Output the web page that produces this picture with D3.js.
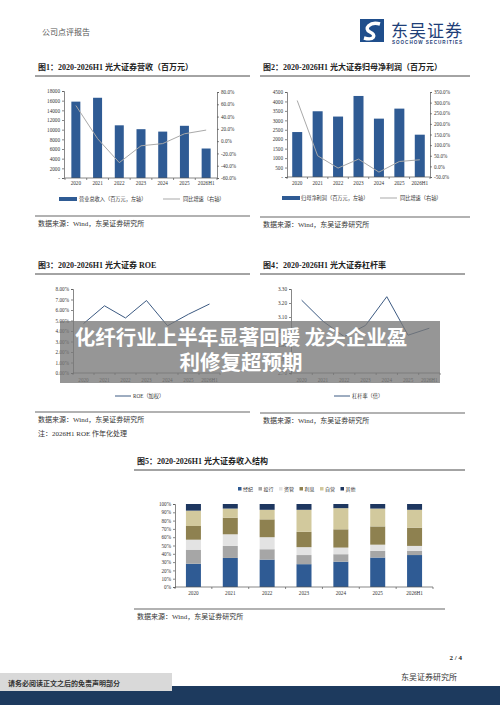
<!DOCTYPE html>
<html><head><meta charset="utf-8">
<script src="https://cdn.jsdelivr.net/npm/d3@7"></script>
<style>
html,body{margin:0;padding:0;background:#fff;}
svg{display:block;font-family:"Liberation Serif","Noto Sans CJK SC",serif;}
</style></head>
<body><svg id="c" width="500" height="706"></svg>
<script>
const years = ["2020","2021","2022","2023","2024","2025","2026H1"];
const revenue = [15800,16600,10900,10100,9600,10800,6100];
const revenueGrowth = [58,4,-35,-7.6,-4,12,18];
const revenueTicks = [0,2000,4000,6000,8000,10000,12000,14000,16000,18000];
const revenueGrowthTicks = [-60,-40,-20,0,20,40,60,80];
const netProfit = [2380,3480,3200,4290,3090,3620,2240];
const profitGrowth = [310,50,-8,34,-27,23,31];
const profitTicks = [0,500,1000,1500,2000,2500,3000,3500,4000,4500];
const profitGrowthTicks = [-50,0,50,100,150,200,250,300,350];
const roe = [4.7,6.4,5.24,6.9,4.5,5.6,6.57];
const roeTicks = [0,1,2,3,4,5,6,7,8];
const leverage = [3.22,3.07,2.96,3.04,3.245,2.97,3.02];
const leverageTicks = [2.7,2.8,2.9,3.0,3.1,3.2,3.3];
const segments = ["经纪","投行","资管","利息","自营","其他"];
const brokerage = [28,35,33,27.5,30.5,35.5,38.5];
const investBanking = [17,14.5,12.5,11,9,8,5];
const assetMgmt = [12,14,14.5,9.5,8,7.5,6];
const interest = [16.5,20,21.5,18.5,22,22,22];
const proprietary = [18.5,11,11.5,26.5,25.5,21.5,21.5];
const others = [8,5.5,7,7,5,5.5,7];
const shareTicks = [0,10,20,30,40,50,60,70,80,90,100];

const svg = d3.select("#c");
const BLUE = "#2f5b94", LGRAY = "#a9a9a9", LINEBLUE = "#3c5a82", AX = "#555";
const segColors = ["#2f5b94","#a6a6a6","#e3e3e3","#8e8150","#d2c99d","#1e3760"];

// Header
svg.append("text").attr("x",42).attr("y",35).attr("font-size",8).attr("fill","#555").text("公司点评报告");
const logo = svg.append("g");
logo.append("rect").attr("x",360).attr("y",19).attr("width",24).attr("height",23).attr("fill","#1f4e8c");
logo.append("path").attr("d","M380 24 C370 21 363 29 370 32 C377 35 374 41 364 38").attr("fill","none").attr("stroke","#fff").attr("stroke-width",3.4);
logo.append("text").attr("x",391).attr("y",37).attr("font-size",17).attr("fill","#1f3f78").attr("font-family","Noto Sans CJK SC").attr("textLength",71).text("东吴证券");
logo.append("text").attr("x",392).attr("y",44).attr("font-size",4.6).attr("font-weight","bold").attr("fill","#1f3f78").attr("font-family","Liberation Sans").attr("textLength",70).text("SOOCHOW SECURITIES");

function title(x,y,x2,t){
  svg.append("text").attr("x",x).attr("y",y).attr("font-size",8).attr("font-weight","bold").attr("fill","#222").text(t);
  svg.append("line").attr("x1",x-3).attr("x2",x2).attr("y1",y+6).attr("y2",y+6).attr("stroke","#333").attr("stroke-width",0.9);
}
function source(x,y,x2,t){
  svg.append("line").attr("x1",x-3).attr("x2",x2).attr("y1",y).attr("y2",y).attr("stroke","#999").attr("stroke-width",1.4);
  svg.append("text").attr("x",x).attr("y",y+10).attr("font-size",7).attr("fill","#333").text(t);
}
function styleAxis(g){
  g.selectAll("path").attr("stroke",AX).attr("stroke-width",0.7);
  g.selectAll("line").attr("stroke",AX).attr("stroke-width",0.7);
  g.selectAll("text").attr("font-size",5.2).attr("fill","#333").attr("font-family","Liberation Serif");
}
function xAxisBand(x, y0, yLabel){
  const g = svg.append("g");
  g.append("line").attr("x1",x.range()[0]).attr("x2",x.range()[1]).attr("y1",y0).attr("y2",y0).attr("stroke",AX).attr("stroke-width",0.7);
  const bounds = d3.range(years.length+1).map(i=>x.range()[0]+i*x.step());
  g.selectAll(".tk").data(bounds).join("line").attr("x1",d=>d).attr("x2",d=>d).attr("y1",y0).attr("y2",y0+2).attr("stroke",AX).attr("stroke-width",0.7);
  g.selectAll("text").data(years).join("text").attr("x",d=>x(d)+x.bandwidth()/2).attr("y",yLabel)
    .attr("text-anchor","middle").attr("font-size",5.2).attr("fill","#333").text(d=>d);
}

// Chart 1
title(38,70,250,"图1：2020-2026H1 光大证券营收（百万元）");
{
  const xb = d3.scaleBand().domain(years).range([65,217]);
  const y = d3.scaleLinear().domain([0,18000]).range([178,91]);
  const y2 = d3.scaleLinear().domain([-60,80]).range([178,92]);
  const gl = svg.append("g").attr("transform","translate(64,0)").call(d3.axisLeft(y).tickValues(revenueTicks).tickSize(2).tickPadding(2).tickFormat(d=>d===0?"-":d));
  styleAxis(gl);
  const gr = svg.append("g").attr("transform","translate(217,0)").call(d3.axisRight(y2).tickValues(revenueGrowthTicks).tickSize(2).tickPadding(2).tickFormat(d=>d.toFixed(1)+"%"));
  styleAxis(gr);
  svg.append("g").selectAll("rect").data(revenue).join("rect").attr("x",(d,i)=>xb(years[i])+xb.bandwidth()/2-4.5).attr("width",9)
    .attr("y",d=>y(d)).attr("height",d=>y(0)-y(d)).attr("fill",BLUE);
  xAxisBand(xb,178,185);
  svg.append("path").datum(revenueGrowth).attr("fill","none").attr("stroke",LGRAY).attr("stroke-width",1)
    .attr("d",d3.line().x((d,i)=>xb(years[i])+xb.bandwidth()/2).y(d=>y2(d)));
  svg.append("rect").attr("x",59).attr("y",197).attr("width",18).attr("height",4).attr("fill",BLUE);
  svg.append("text").attr("x",79).attr("y",201).attr("font-size",5.2).attr("fill","#333").text("营业总收入（百万元，左轴）");
  svg.append("line").attr("x1",163).attr("x2",180).attr("y1",199).attr("y2",199).attr("stroke",LGRAY).attr("stroke-width",1);
  svg.append("text").attr("x",183).attr("y",201).attr("font-size",5.2).attr("fill","#333").text("同比增速（右轴）");
}
source(38,216,250,"数据来源：Wind，东吴证券研究所");

// Chart 2
title(263,70,470,"图2：2020-2026H1 光大证券归母净利润（百万元）");
{
  const xb = d3.scaleBand().domain(years).range([287,430]);
  const y = d3.scaleLinear().domain([0,4500]).range([177,92]);
  const y2 = d3.scaleLinear().domain([-50,350]).range([177,92]);
  const gl = svg.append("g").attr("transform","translate(287,0)").call(d3.axisLeft(y).tickValues(profitTicks).tickSize(2).tickPadding(2).tickFormat(d=>d===0?"-":d));
  styleAxis(gl);
  const gr = svg.append("g").attr("transform","translate(430,0)").call(d3.axisRight(y2).tickValues(profitGrowthTicks).tickSize(2).tickPadding(2).tickFormat(d=>d.toFixed(1)+"%"));
  styleAxis(gr);
  svg.append("g").selectAll("rect").data(netProfit).join("rect").attr("x",(d,i)=>xb(years[i])+xb.bandwidth()/2-5).attr("width",10)
    .attr("y",d=>y(d)).attr("height",d=>y(0)-y(d)).attr("fill",BLUE);
  xAxisBand(xb,177,185);
  svg.append("path").datum(profitGrowth).attr("fill","none").attr("stroke",LGRAY).attr("stroke-width",1)
    .attr("d",d3.line().x((d,i)=>xb(years[i])+xb.bandwidth()/2).y(d=>y2(d)));
  svg.append("rect").attr("x",282).attr("y",196).attr("width",18).attr("height",4).attr("fill",BLUE);
  svg.append("text").attr("x",301).attr("y",200).attr("font-size",5.2).attr("fill","#333").text("归母净利润（百万元，左轴）");
  svg.append("line").attr("x1",380).attr("x2",397).attr("y1",198).attr("y2",198).attr("stroke",LGRAY).attr("stroke-width",1);
  svg.append("text").attr("x",400).attr("y",200).attr("font-size",5.2).attr("fill","#333").text("同比增速（右轴）");
}
source(263,217,470,"数据来源：Wind，东吴证券研究所");

// Chart 3
title(38,268,250,"图3：2020-2026H1 光大证券 ROE");
{
  const xb = d3.scaleBand().domain(years).range([73,220]);
  const y = d3.scaleLinear().domain([0,8]).range([373,289]);
  const gl = svg.append("g").attr("transform","translate(73,0)").call(d3.axisLeft(y).tickValues(roeTicks).tickSize(2).tickPadding(2).tickFormat(d=>d.toFixed(2)+"%"));
  styleAxis(gl);
  xAxisBand(xb,373,382);
  svg.append("path").datum(roe).attr("fill","none").attr("stroke",LINEBLUE).attr("stroke-width",1)
    .attr("d",d3.line().x((d,i)=>xb(years[i])+xb.bandwidth()/2).y(d=>y(d)));
  svg.append("line").attr("x1",115).attr("x2",131).attr("y1",396).attr("y2",396).attr("stroke",LINEBLUE).attr("stroke-width",1);
  svg.append("text").attr("x",133).attr("y",398).attr("font-size",5.2).attr("fill","#333").text("ROE（加权）");
}
source(38,412,250,"数据来源：Wind，东吴证券研究所");
svg.append("text").attr("x",38).attr("y",436).attr("font-size",7).attr("fill","#333").text("注：2026H1 ROE 作年化处理");

// Chart 4
title(263,268,465,"图4：2020-2026H1 光大证券杠杆率");
{
  const xb = d3.scaleBand().domain(years).range([291,440]);
  const y = d3.scaleLinear().domain([2.7,3.3]).range([373,289]);
  const gl = svg.append("g").attr("transform","translate(291,0)").call(d3.axisLeft(y).tickValues(leverageTicks).tickSize(2).tickPadding(2).tickFormat(d=>d.toFixed(2)));
  styleAxis(gl);
  xAxisBand(xb,373,382);
  svg.append("path").datum(leverage).attr("fill","none").attr("stroke",LINEBLUE).attr("stroke-width",1)
    .attr("d",d3.line().x((d,i)=>xb(years[i])+xb.bandwidth()/2).y(d=>y(d)));
  svg.append("line").attr("x1",334).attr("x2",350).attr("y1",396).attr("y2",396).attr("stroke",LINEBLUE).attr("stroke-width",1);
  svg.append("text").attr("x",352).attr("y",398).attr("font-size",5.2).attr("fill","#333").text("杠杆率（倍）");
}
source(263,413,465,"数据来源：Wind，东吴证券研究所");

// Chart 5
title(137,464,465,"图5：2020-2026H1 光大证券收入结构");
{
  const xb = d3.scaleBand().domain(years).range([175,433]);
  const y = d3.scaleLinear().domain([0,100]).range([587,504]);
  const series = [brokerage,investBanking,assetMgmt,interest,proprietary,others];
  const rows = years.map((yr,i)=>{const o={year:yr}; segments.forEach((s,k)=>o[s]=series[k][i]); return o;});
  const stack = d3.stack().keys(segments)(rows);
  const gl = svg.append("g").attr("transform","translate(175,0)").call(d3.axisLeft(y).tickValues(shareTicks).tickSize(2).tickPadding(2).tickFormat(d=>d+"%"));
  styleAxis(gl);
  stack.forEach((layer,k)=>{
    svg.append("g").selectAll("rect").data(layer).join("rect")
      .attr("x",d=>xb(d.data.year)+xb.bandwidth()/2-7.5).attr("width",15)
      .attr("y",d=>y(d[1])).attr("height",d=>y(d[0])-y(d[1])).attr("fill",segColors[k]);
  });
  svg.append("line").attr("x1",175).attr("x2",433).attr("y1",587).attr("y2",587).attr("stroke",AX).attr("stroke-width",0.7);
  svg.selectAll(".x5").data(d3.range(years.length+1)).join("line").attr("x1",i=>175+i*xb.step()).attr("x2",i=>175+i*xb.step()).attr("y1",587).attr("y2",589).attr("stroke",AX).attr("stroke-width",0.7);
  svg.append("g").selectAll("text").data(years).join("text").attr("x",d=>xb(d)+xb.bandwidth()/2).attr("y",595)
    .attr("text-anchor","middle").attr("font-size",5.2).attr("fill","#333").text(d=>d);
  const lg = svg.append("g");
  segments.forEach((s,k)=>{
    const lx = 238 + k*20.5;
    lg.append("rect").attr("x",lx).attr("y",487).attr("width",3.5).attr("height",3.5).attr("fill",segColors[k]);
    lg.append("text").attr("x",lx+5).attr("y",491).attr("font-size",5).attr("fill","#333").text(s);
  });
}
source(137,609,445,"数据来源：Wind，东吴证券研究所");

// Footer
svg.append("text").attr("x",462).attr("y",660).attr("text-anchor","end").attr("font-size",7).attr("font-weight","bold").attr("fill","#222").text("2 / 4");
svg.append("text").attr("x",457).attr("y",680).attr("text-anchor","end").attr("font-size",8).attr("fill","#333").text("东吴证券研究所");
svg.append("rect").attr("x",0).attr("y",686).attr("width",500).attr("height",19).attr("fill","#1d3a5e");
svg.append("rect").attr("x",0).attr("y",673).attr("width",172).attr("height",18).attr("fill","#d9d9d9");
svg.append("text").attr("x",8).attr("y",686).attr("font-size",7).attr("font-weight","bold").attr("fill","#333").text("请务必阅读正文之后的免责声明部分");

// Overlay headline
svg.append("rect").attr("x",60).attr("y",321).attr("width",380).attr("height",62).attr("fill","#787878").attr("opacity",0.78);
const hl = svg.append("g").attr("font-family","Noto Sans CJK SC").attr("font-weight","bold").attr("font-size",20.5).attr("fill","#fff").attr("text-anchor","middle");
hl.append("text").attr("x",241).attr("y",345).text("化纤行业上半年显著回暖 龙头企业盈");
hl.append("text").attr("x",241).attr("y",370).text("利修复超预期");
</script></body></html>
